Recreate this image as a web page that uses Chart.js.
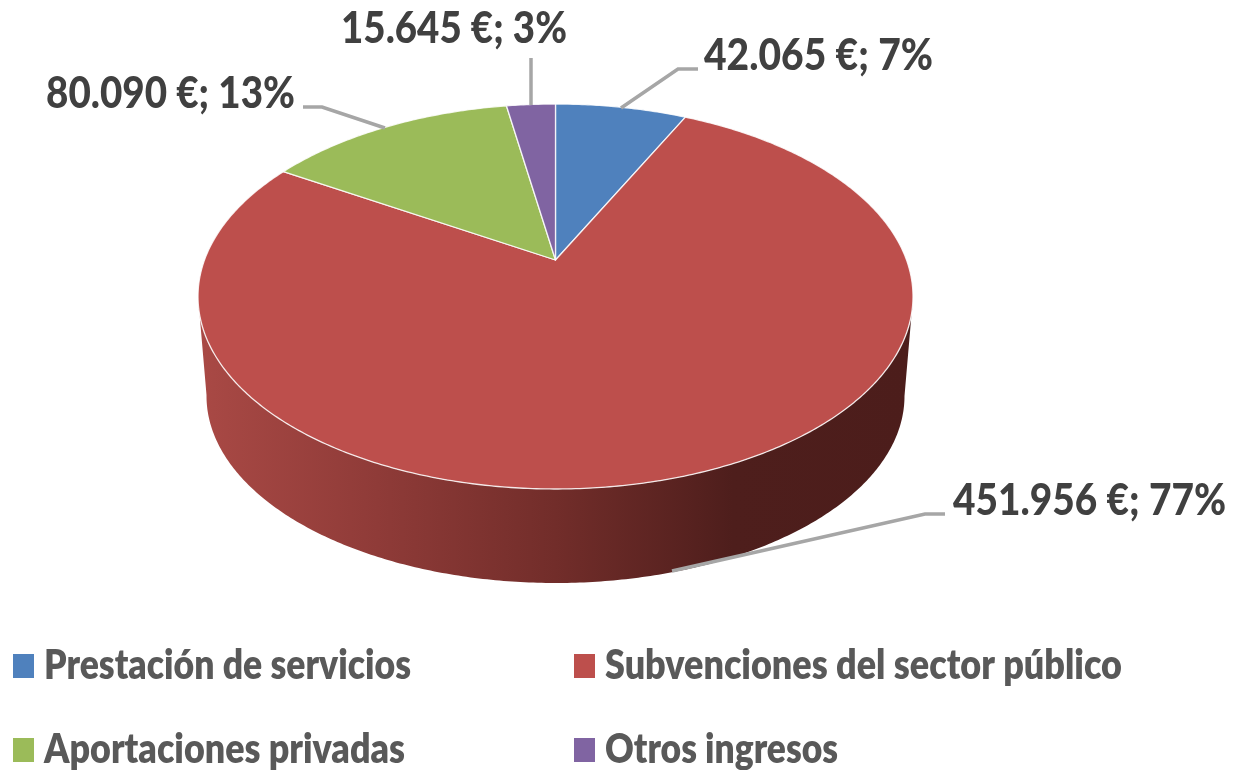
<!DOCTYPE html>
<html>
<head>
<meta charset="utf-8">
<style>
  html, body { margin: 0; padding: 0; background: #fff; }
  canvas { display: block; }
</style>
<script src="https://cdn.jsdelivr.net/npm/chart.js@4/dist/chart.umd.min.js"></script>
</head>
<body>
<canvas id="chart" width="1234" height="770"></canvas>
<script>
const categories = ["Prestación de servicios", "Subvenciones del sector público", "Aportaciones privadas", "Otros ingresos"];
const ingresos = [42065, 451956, 80090, 15645];
const etiquetas = ["42.065 €; 7%", "451.956 €; 77%", "80.090 €; 13%", "15.645 €; 3%"];
const colores = ["#4f81bd", "#bd4f4c", "#9bbb59", "#8064a2"];

// label box: left, baseline, width on the picture
const etiquetaPos = [[704, 70, 229], [953, 515, 273], [46, 108, 249], [341, 43, 226]];
const lineas = [
  [[698, 69], [678, 69], [621, 108]],
  [[945, 514], [925, 514], [672, 571]],
  [[303, 107], [322, 107], [385, 128]],
  [[531, 58], [531, 105]]
];
// legend: swatch x, swatch y, text x, baseline, text width
const leyendaPos = [[13, 654, 44, 679, 367], [574, 654, 605, 679, 517], [13, 738, 44, 763, 361], [574, 738, 605, 763, 233]];

// projective map of the pie circle, gives the tilted look with the apex off the ellipse centre
function mapa(cx, yTop, yApex, yBot, rx) {
  const c = (yTop + yBot - 2 * yApex) / (yBot - yTop);
  const k = yTop * (1 + c) - yApex;
  const A = rx * Math.sqrt(1 - c * c);
  return (ang) => {
    const t = ang + Math.PI / 2;
    const u = Math.sin(t), v = Math.cos(t), w = 1 + c * v;
    return [cx + A * u / w, (k * v + yApex) / w];
  };
}
const cara = mapa(555.5, 104, 260, 489, 357.5);
const base = mapa(555.5, 209, 360, 583, 349);

function puntos(f, a0, a1) {
  const pts = [];
  const n = Math.max(2, Math.ceil((a1 - a0) / 0.01));
  for (let i = 0; i <= n; i++) pts.push(f(a0 + (a1 - a0) * i / n));
  return pts;
}

// keep only the stretch of the curve between its rightmost and leftmost points
function tramoFrontal(pts) {
  let der = 0, izq = 0;
  pts.forEach((p, i) => {
    if (p[0] > pts[der][0]) der = i;
    if (p[0] < pts[izq][0]) izq = i;
  });
  return pts.slice(der, izq + 1);
}

function textoAjustado(ctx, txt, x, y, ancho) {
  const w = ctx.measureText(txt).width;
  ctx.save();
  ctx.translate(x, y);
  ctx.scale(ancho / w, 1);
  ctx.fillText(txt, 0, 0);
  ctx.restore();
}

const pie3d = {
  id: "pie3d",
  beforeDatasetsDraw(chart) {
    const ctx = chart.ctx;
    const arcos = chart.getDatasetMeta(0).data;
    ctx.save();

    // side wall, from tangent to tangent
    const frenteA = -Math.PI * 0.25, frenteB = Math.PI * 1.25;
    const g = ctx.createLinearGradient(200, 0, 910, 0);
    g.addColorStop(0, "#a94945");
    g.addColorStop(0.25, "#8f3b38");
    g.addColorStop(0.5, "#722d2a");
    g.addColorStop(0.75, "#4e1e1c");
    g.addColorStop(1, "#4c1d1b");
    ctx.fillStyle = g;
    arcos.forEach((arc) => {
      const a0 = Math.max(arc.startAngle, frenteA), a1 = Math.min(arc.endAngle, frenteB);
      if (a1 <= a0) return;
      const arriba = tramoFrontal(puntos(cara, a0, a1));
      const abajo = tramoFrontal(puntos(base, a0, a1)).reverse();
      ctx.beginPath();
      arriba.concat(abajo).forEach((p, i) => i ? ctx.lineTo(p[0], p[1]) : ctx.moveTo(p[0], p[1]));
      ctx.closePath();
      ctx.fill();
    });

    // top face
    arcos.forEach((arc, i) => {
      ctx.beginPath();
      ctx.moveTo(555.5, 260);
      puntos(cara, arc.startAngle, arc.endAngle).forEach((p) => ctx.lineTo(p[0], p[1]));
      ctx.closePath();
      ctx.fillStyle = colores[i];
      ctx.fill();
      ctx.strokeStyle = "rgba(255,255,255,0.85)";
      ctx.lineWidth = 1.3;
      ctx.lineJoin = "round";
      ctx.stroke();
    });
    ctx.restore();
    return false;
  },
  afterDraw(chart) {
    const ctx = chart.ctx;
    ctx.save();

    ctx.strokeStyle = "#a6a6a6";
    ctx.lineWidth = 3.5;
    lineas.forEach((l) => {
      ctx.beginPath();
      l.forEach((p, i) => i ? ctx.lineTo(p[0], p[1]) : ctx.moveTo(p[0], p[1]));
      ctx.stroke();
    });

    ctx.textBaseline = "alphabetic";
    ctx.textAlign = "left";
    ctx.fillStyle = "#404040";
    ctx.font = "900 44px Lato";
    etiquetas.forEach((t, i) => textoAjustado(ctx, t, etiquetaPos[i][0], etiquetaPos[i][1], etiquetaPos[i][2]));

    ctx.font = "800 42px Lato";
    categories.forEach((t, i) => {
      const p = leyendaPos[i];
      ctx.fillStyle = colores[i];
      ctx.fillRect(p[0], p[1], 21, 24);
      ctx.fillStyle = "#595959";
      textoAjustado(ctx, t, p[2], p[3], p[4]);
    });
    ctx.restore();
  }
};

new Chart(document.getElementById("chart"), {
  type: "pie",
  data: {
    labels: categories,
    datasets: [{ data: ingresos, backgroundColor: colores }]
  },
  options: {
    responsive: false,
    animation: false,
    plugins: { legend: { display: false }, tooltip: { enabled: false } }
  },
  plugins: [pie3d]
});
</script>
</body>
</html>
